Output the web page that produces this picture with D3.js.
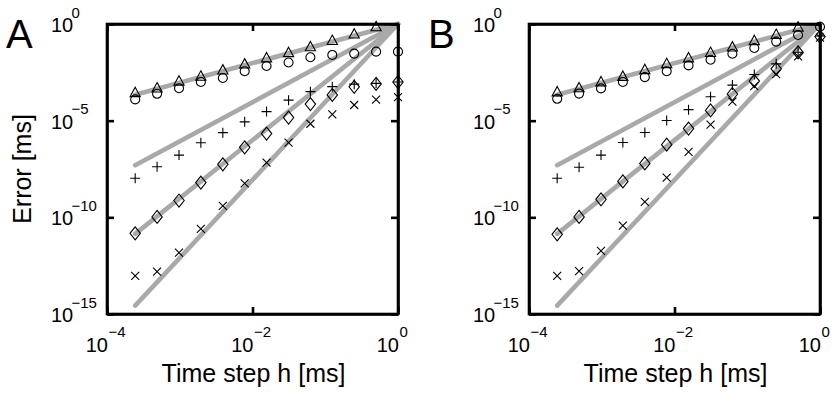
<!DOCTYPE html>
<html>
<head>
<meta charset="utf-8">
<script src="https://cdn.jsdelivr.net/npm/d3@7"></script>
<style>
  html, body { margin: 0; padding: 0; background: #fff; }
  svg { display: block; }
  text { font-family: "Liberation Sans", Arial, Helvetica, sans-serif; fill: #000; }
</style>
</head>
<body>
<svg id="chart" width="838" height="393"></svg>
<script>
// ---- data ----
const timeStep = [2.44e-4, 4.88e-4, 9.77e-4, 1.95e-3, 3.91e-3, 7.81e-3, 1.56e-2, 3.13e-2, 6.25e-2, 0.125, 0.25, 0.5, 1];

// Panel A
const triA   = [2.95e-4, 5.13e-4, 1.17e-3, 2.09e-3, 4.37e-3, 8.91e-3, 1.86e-2, 3.47e-2, 6.92e-2, 0.148, 0.316, 0.759, null];
const circA  = [1.26e-4, 2.45e-4, 4.79e-4, 1.0e-3, 1.62e-3, 3.63e-3, 6.76e-3, 1.02e-2, 1.91e-2, 2.51e-2, 2.95e-2, 3.72e-2, 3.72e-2];
const plusA  = [1.05e-8, 4.17e-8, 1.66e-7, 7.24e-7, 2.40e-6, 8.71e-6, 2.95e-5, 1.15e-4, 3.16e-4, 5.75e-4, 7.76e-4, 8.51e-4, 1.0e-3];
const diamA  = [1.48e-11, 1.05e-10, 7.41e-10, 6.31e-9, 5.50e-8, 4.17e-7, 2.14e-6, 1.45e-5, 7.24e-5, 2.14e-4, 5.62e-4, 7.94e-4, 1.0e-3];
const crossA = [9.33e-14, 1.55e-13, 1.48e-12, 2.51e-11, 3.89e-10, 5.75e-9, 6.76e-8, 7.24e-7, 6.92e-6, 2.09e-5, 6.46e-5, 1.23e-4, 1.66e-4];

// Panel B
const triB   = [3.24e-4, 5.25e-4, 1.07e-3, 2.04e-3, 4.57e-3, 9.33e-3, 1.86e-2, 3.55e-2, 6.76e-2, 0.145, 0.302, 0.724, null];
const circB  = [1.35e-4, 2.51e-4, 4.68e-4, 1.0e-3, 1.78e-3, 3.63e-3, 7.24e-3, 1.41e-2, 2.88e-2, 5.75e-2, 0.123, 0.269, 0.724];
const plusB  = [1.05e-8, 3.89e-8, 1.66e-7, 7.41e-7, 2.45e-6, 1.02e-5, 3.72e-5, 1.74e-4, 6.92e-4, 2.45e-3, 8.71e-3, 3.47e-2, 0.240];
const diamB  = [1.32e-11, 1.05e-10, 8.51e-10, 7.24e-9, 6.17e-8, 5.75e-7, 3.89e-6, 3.39e-5, 2.40e-4, 1.12e-3, 4.79e-3, 3.39e-2, 0.224];
const crossB = [9.33e-14, 1.66e-13, 1.86e-12, 3.72e-11, 6.31e-10, 1.12e-8, 2.45e-7, 6.17e-6, 9.55e-5, 6.17e-4, 2.57e-3, 2.14e-2, 0.195];

// Grey reference lines (orders 1..4): values at the first and last time step
const refH     = [2.44e-4, 1];
const refStart = [2.2e-4, 5.0e-8, 1.4e-11, 2.7e-15];
const refEnd   = [1, 1, 1, 1];

const xTicks = [1e-4, 1e-2, 1];
const xTickExp = ["\u22124", "\u22122", "0"];
const yTicks = [1, 1e-5, 1e-10, 1e-15];
const yTickExp = ["0", "\u22125", "\u221210", "\u221215"];

const xLabel = "Time step h [ms]";
const yLabel = "Error [ms]";

// ---- marker shapes ----
const markerPath = {
  triangle: "M0,-5L5.1,4.4L-5.1,4.4Z",
  circle: d3.arc()({innerRadius: 0, outerRadius: 4.5, startAngle: 0, endAngle: 2 * Math.PI}),
  plus: "M-5,0H5M0,-5V5",
  cross: "M-4,-4L4,4M-4,4L4,-4",
  diamond: "M0,-6.5L5.2,0L0,6.5L-5.2,0Z"
};

const svg = d3.select("#chart");

function panel(opts) {
  const {left, right, top, bottom, letter, series, showYLabel} = opts;
  const x = d3.scaleLog().domain([1e-4, 1]).range([left, right]);
  const y = d3.scaleLog().domain([1e-15, 1]).range([bottom, top]);
  const g = svg.append("g");

  // reference lines
  const line = d3.line().x(d => x(d[0])).y(d => y(d[1]));
  refStart.forEach((s, i) => {
    g.append("path")
      .attr("d", line([[refH[0], s], [refH[1], refEnd[i]]]))
      .attr("fill", "none")
      .attr("stroke", "#a9a9a9")
      .attr("stroke-width", 4.6)
      .attr("stroke-linecap", "round");
  });

  // markers
  series.forEach(s => {
    const pts = timeStep.map((h, i) => [h, s.values[i]]).filter(d => d[1] != null);
    g.selectAll(null).data(pts).enter().append("path")
      .attr("d", markerPath[s.shape])
      .attr("transform", d => `translate(${x(d[0])},${y(d[1])})`)
      .attr("fill", "none")
      .attr("stroke", "#000")
      .attr("stroke-width", 1.1);
  });

  // axes (ticks inside)
  const styleAxis = sel => {
    sel.selectAll("path.domain").attr("stroke", "#000").attr("stroke-width", 2.6);
    sel.selectAll(".tick line").attr("stroke", "#000").attr("stroke-width", 2.6);
    sel.selectAll(".tick text").remove();
  };
  g.append("g").attr("transform", `translate(0,${bottom})`)
    .call(d3.axisBottom(x).tickValues(xTicks).tickSize(-7).tickSizeOuter(0).tickFormat(() => "")).call(styleAxis);
  g.append("g").attr("transform", `translate(0,${top})`)
    .call(d3.axisTop(x).tickValues(xTicks).tickSize(-7).tickSizeOuter(0).tickFormat(() => "")).call(styleAxis);
  g.append("g").attr("transform", `translate(${left},0)`)
    .call(d3.axisLeft(y).tickValues(yTicks).tickSize(-7).tickSizeOuter(0).tickFormat(() => "")).call(styleAxis);
  g.append("g").attr("transform", `translate(${right},0)`)
    .call(d3.axisRight(y).tickValues(yTicks).tickSize(-7).tickSizeOuter(0).tickFormat(() => "")).call(styleAxis);

  g.append("rect")
    .attr("x", left).attr("y", top)
    .attr("width", right - left).attr("height", bottom - top)
    .attr("fill", "none").attr("stroke", "#000").attr("stroke-width", 2.6);

  // x tick labels
  xTicks.forEach((v, i) => {
    g.append("text").attr("x", x(v) + 1).attr("y", bottom + 38)
      .attr("text-anchor", "end").attr("font-size", 20).text("10");
    g.append("text").attr("x", x(v) + 1.5).attr("y", bottom + 23)
      .attr("text-anchor", "start").attr("font-size", 15).text(xTickExp[i]);
  });
  // y tick labels
  yTicks.forEach((v, i) => {
    g.append("text").attr("x", left - 56).attr("y", y(v) + 8)
      .attr("text-anchor", "start").attr("font-size", 20).text("10");
    g.append("text").attr("x", left - 35.5).attr("y", y(v) - 6.5)
      .attr("text-anchor", "start").attr("font-size", 15).text(yTickExp[i]);
  });

  // axis titles
  g.append("text").attr("x", (left + right) / 2 + 1).attr("y", bottom + 67.5)
    .attr("text-anchor", "middle").attr("font-size", 25).text(xLabel);
  if (showYLabel) {
    g.append("text").attr("transform", `translate(31,${(top + bottom) / 2}) rotate(-90)`)
      .attr("text-anchor", "middle").attr("font-size", 25).text(yLabel);
  }
  // panel letter
  g.append("text").attr("x", left - 101).attr("y", 48)
    .attr("font-size", 40).text(letter);
}

panel({
  left: 107, right: 398, top: 24, bottom: 314, letter: "A", showYLabel: true,
  series: [
    {shape: "triangle", values: triA},
    {shape: "circle", values: circA},
    {shape: "plus", values: plusA},
    {shape: "diamond", values: diamA},
    {shape: "cross", values: crossA}
  ]
});
panel({
  left: 529, right: 820, top: 24, bottom: 314, letter: "B", showYLabel: false,
  series: [
    {shape: "triangle", values: triB},
    {shape: "circle", values: circB},
    {shape: "plus", values: plusB},
    {shape: "diamond", values: diamB},
    {shape: "cross", values: crossB}
  ]
});
</script>
</body>
</html>
